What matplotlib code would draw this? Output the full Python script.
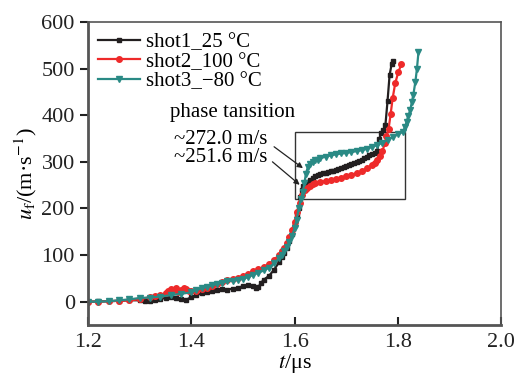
import numpy as np
import matplotlib
matplotlib.use('Agg')
import matplotlib.pyplot as plt
from matplotlib.patches import Rectangle

plt.rcParams['font.family'] = ['Liberation Serif', 'DejaVu Serif']
plt.rcParams['mathtext.fontset'] = 'stix'

# shot1, 25 C
t1 = [1.20, 1.22, 1.24, 1.26, 1.28, 1.30, 1.31, 1.32, 1.33, 1.34, 1.35, 1.36, 1.37, 1.38,
      1.39, 1.40, 1.41, 1.42, 1.43, 1.44, 1.45, 1.46, 1.47, 1.48, 1.49, 1.50, 1.51, 1.52,
      1.525, 1.53, 1.535, 1.54, 1.55, 1.56, 1.57, 1.575, 1.58, 1.585, 1.59, 1.595, 1.60,
      1.605, 1.608, 1.611, 1.614, 1.617, 1.62, 1.625, 1.63, 1.635, 1.64, 1.645, 1.65,
      1.655, 1.66, 1.665, 1.67, 1.675, 1.68, 1.685, 1.69, 1.695, 1.70, 1.705, 1.71, 1.715,
      1.72, 1.725, 1.73, 1.735, 1.74, 1.745, 1.75, 1.755, 1.76, 1.764, 1.768, 1.772,
      1.776, 1.780, 1.784, 1.788, 1.790]
u1 = [0, 0.5, 1, 2, 3, 3, 1, 1, 3, 6, 8, 10, 8, 5,
      4, 10, 14, 18, 20, 22, 25, 27, 26, 28, 30, 33, 36, 34,
      30, 32, 40, 47, 55, 68, 85, 95, 105, 115, 130, 145, 165,
      185, 200, 225, 240, 248, 252, 256, 261, 265, 270, 272, 274,
      276, 277, 278, 280, 281, 283, 285, 287, 289, 291, 293, 295, 297,
      300, 302, 305, 308, 311, 314, 317, 320, 324, 350, 362, 368,
      380, 430, 486, 510, 517]

# shot2, 100 C
t2 = [1.20, 1.22, 1.24, 1.26, 1.28, 1.30, 1.32, 1.33, 1.34, 1.35, 1.355, 1.36, 1.365,
      1.37, 1.375, 1.38, 1.385, 1.39, 1.395, 1.40, 1.41, 1.42, 1.43, 1.44, 1.45, 1.46,
      1.47, 1.48, 1.49, 1.50, 1.51, 1.52, 1.53, 1.54, 1.55, 1.56, 1.57, 1.575, 1.58,
      1.585, 1.59, 1.595, 1.60, 1.605, 1.61, 1.615, 1.62, 1.625, 1.63, 1.635, 1.64, 1.65,
      1.66, 1.67, 1.68, 1.69, 1.70, 1.71, 1.72, 1.73, 1.74, 1.75, 1.755, 1.76, 1.765,
      1.77, 1.775, 1.778, 1.782, 1.786, 1.790, 1.795, 1.801, 1.807]
u2 = [0, 0, 1, 2, 3, 5, 10, 12, 15, 18, 22, 28, 25,
      30, 20, 25, 30, 28, 24, 22, 24, 27, 30, 34, 38, 43,
      46, 48, 50, 55, 60, 65, 70, 74, 80, 90, 100, 108, 116,
      126, 138, 154, 172, 192, 212, 230, 240, 244, 248, 252, 254, 257,
      259, 261, 263, 266, 269, 272, 276, 280, 286, 293, 298, 305, 313,
      323, 340, 355, 370, 402, 437, 469, 493, 510]

# shot3, -80 C
t3 = [1.20, 1.22, 1.24, 1.26, 1.28, 1.30, 1.32, 1.34, 1.36, 1.38, 1.40, 1.41, 1.42, 1.43,
      1.44, 1.45, 1.46, 1.47, 1.48, 1.49, 1.50, 1.51, 1.52, 1.53, 1.54, 1.55, 1.56, 1.57,
      1.575, 1.58, 1.585, 1.59, 1.595, 1.60, 1.604, 1.608, 1.612, 1.616, 1.619, 1.622,
      1.626, 1.63, 1.635, 1.64, 1.645, 1.65, 1.66, 1.67, 1.68, 1.69, 1.70, 1.71, 1.72,
      1.73, 1.74, 1.75, 1.76, 1.77, 1.78, 1.79, 1.80, 1.81, 1.814, 1.817, 1.82, 1.824,
      1.827, 1.830, 1.834, 1.837, 1.840]
u3 = [0, 0, 1, 3, 5, 8, 9, 11, 14, 17, 20, 25, 29, 32,
      35, 38, 41, 44, 45, 47, 49, 53, 58, 62, 67, 73, 82, 93,
      100, 109, 118, 128, 140, 158, 176, 200, 220, 236, 254, 275,
      290, 295, 300, 303, 305, 308, 311, 314, 316, 318, 319, 321, 323,
      325, 328, 332, 336, 341, 347, 353, 359, 365, 375, 386, 398, 411,
      428, 444, 472, 500, 536]

labels = ['shot1_25 °C', 'shot2_100 °C', 'shot3_\u221280 °C']
colors = ['#231f20', '#ee2a2a', '#2a8a85']

fig, ax = plt.subplots(figsize=(5.15, 3.74), dpi=100)
fig.subplots_adjust(left=0.171, right=0.973, top=0.941, bottom=0.131)

ax.plot(t1, u1, '-s', color=colors[0], ms=3.5, lw=1.6, label=labels[0])
ax.plot(t2, u2, '-o', color=colors[1], ms=4, lw=1.6, label=labels[1])
ax.plot(t3, u3, '-v', color=colors[2], ms=4.5, lw=1.6, label=labels[2])

ax.add_patch(Rectangle((1.6, 220), 0.214, 144, fill=False, ec='#333333', lw=1))

ax.text(1.479, 407, 'phase tansition', ha='center', va='center', fontsize=15)
ax.text(1.547, 347, '~272.0 m/s', ha='right', va='center', fontsize=15)
ax.text(1.547, 309, '~251.6 m/s', ha='right', va='center', fontsize=15)
ax.annotate('', xy=(1.6205, 283), xytext=(1.556, 336),
            arrowprops=dict(arrowstyle='-|>', color='#222222', lw=0.9, mutation_scale=8))
ax.annotate('', xy=(1.614, 247), xytext=(1.553, 304),
            arrowprops=dict(arrowstyle='-|>', color='#222222', lw=0.9, mutation_scale=8))

ax.set_xlim(1.2, 2.0)
ax.set_ylim(-50, 600)
ax.set_xticks([1.2, 1.4, 1.6, 1.8, 2.0])
ax.set_yticks([0, 100, 200, 300, 400, 500, 600])
ax.tick_params(axis='x', direction='in', length=6, width=1.5, labelsize=16, colors='#222222', pad=6)
ax.tick_params(axis='y', direction='out', length=6, width=1.5, labelsize=16, colors='#222222')
for s in ['left', 'bottom']:
    ax.spines[s].set_linewidth(2)
    ax.spines[s].set_color('#555555')
for s in ['top', 'right']:
    ax.spines[s].set_linewidth(1.2)
    ax.spines[s].set_color('#555555')

ax.set_xlabel('$t$/\u03bcs', fontsize=16, labelpad=0)
ax.set_ylabel('$u_\\mathrm{f}$/(m\u00b7s$^{-1}$)', fontsize=16, labelpad=2)

ax.legend(loc='upper left', frameon=False, fontsize=15, handlelength=2.0,
          handletextpad=0.3, labelspacing=0.0, borderaxespad=0.3, borderpad=0.2)

fig.savefig('out.png', dpi=100)
